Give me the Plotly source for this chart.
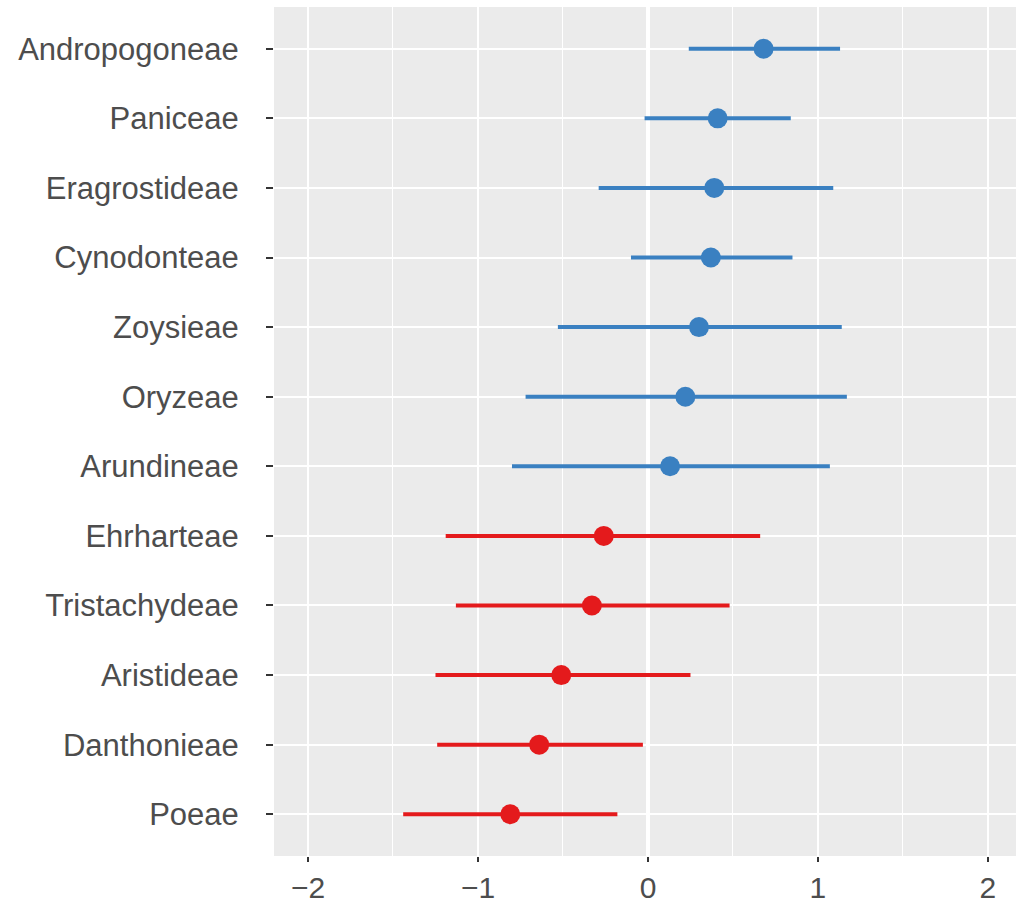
import plotly.graph_objects as go

# Tribe-level effect estimates with their interval bounds
tribes = ["Andropogoneae", "Paniceae", "Eragrostideae", "Cynodonteae", "Zoysieae",
          "Oryzeae", "Arundineae", "Ehrharteae", "Tristachydeae", "Aristideae",
          "Danthonieae", "Poeae"]
estimate = [0.68, 0.41, 0.39, 0.37, 0.30, 0.22, 0.13, -0.26, -0.33, -0.51, -0.64, -0.81]
lower = [0.24, -0.02, -0.29, -0.10, -0.53, -0.72, -0.80, -1.19, -1.13, -1.25, -1.24, -1.44]
upper = [1.13, 0.84, 1.09, 0.85, 1.14, 1.17, 1.07, 0.66, 0.48, 0.25, -0.03, -0.18]

BLUE = "#3A80C1"
RED = "#E41A1C"

fig = go.Figure()

for sign, color in ((1, BLUE), (-1, RED)):
    idx = [i for i, v in enumerate(estimate) if (v > 0) == (sign > 0)]
    ys = [tribes[i] for i in idx]
    xs = [estimate[i] for i in idx]
    fig.add_trace(go.Scatter(
        x=xs, y=ys, mode="markers",
        marker=dict(color=color, size=20, line=dict(width=0)),
        error_x=dict(type="data", symmetric=False,
                     array=[upper[i] - estimate[i] for i in idx],
                     arrayminus=[estimate[i] - lower[i] for i in idx],
                     width=0, thickness=4, color=color),
        showlegend=False,
    ))

y_font = dict(family="Liberation Sans, Arial, sans-serif", size=31, color="#4D4D4D")
x_font = dict(family="Liberation Sans, Arial, sans-serif", size=30, color="#4D4D4D")

fig.update_layout(
    width=1016, height=905,
    margin=dict(l=274, r=0, t=7, b=49),
    paper_bgcolor="white",
    plot_bgcolor="#EBEBEB",
    font=y_font,
    xaxis=dict(
        range=[-2.2, 2.165],
        tickmode="array", tickvals=[-2, -1, 0, 1, 2],
        showgrid=True, gridcolor="white", gridwidth=2.2,
        zeroline=True, zerolinecolor="white", zerolinewidth=3.5,
        minor=dict(tickmode="array", tickvals=[-1.5, -0.5, 0.5, 1.5],
                   showgrid=True, gridcolor="white", gridwidth=1.1, ticks=""),
        ticks="outside", ticklen=5, tickwidth=2, tickcolor="#333333",
        ticklabelstandoff=0,
        tickfont=x_font, showline=False, automargin=False,
    ),
    yaxis=dict(
        type="category", categoryorder="array", categoryarray=tribes,
        range=[11.6, -0.6],
        showgrid=True, gridcolor="white", gridwidth=2.2,
        ticks="outside", ticklen=7, tickwidth=2, tickcolor="#333333",
        ticklabelstandoff=21,
        tickfont=y_font, showline=False, zeroline=False, automargin=False,
    ),
)

fig.write_html("out.html")
